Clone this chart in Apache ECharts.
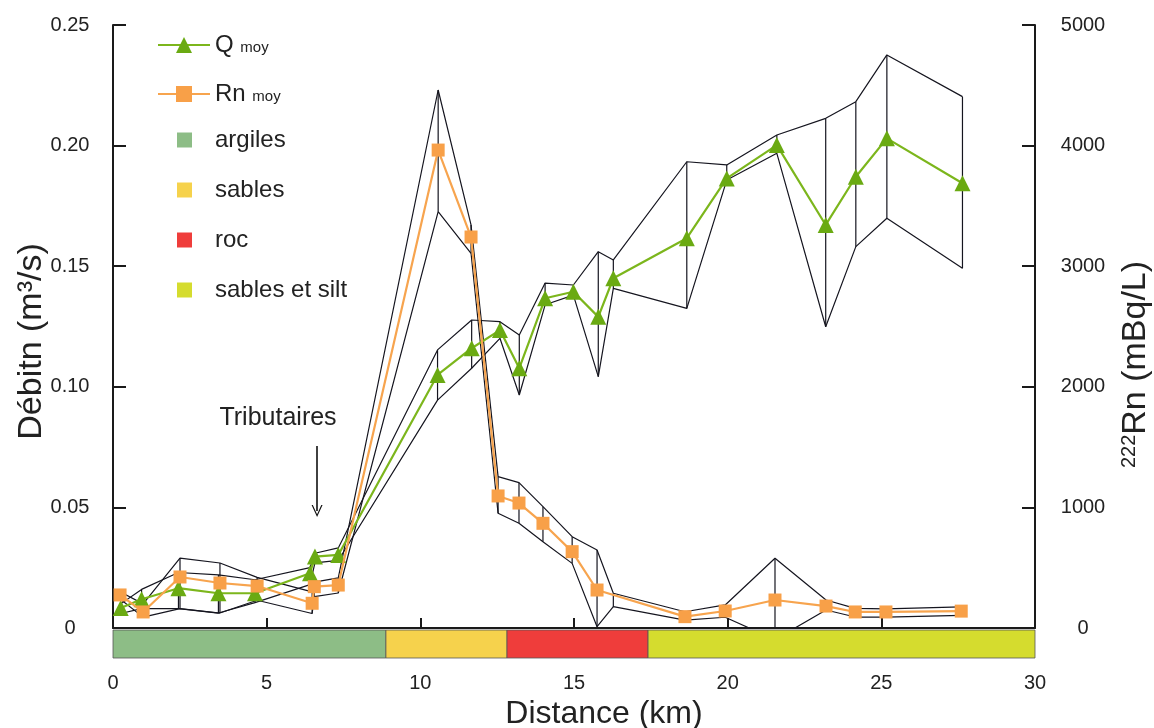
<!DOCTYPE html>
<html><head><meta charset="utf-8">
<script src="https://cdn.jsdelivr.net/npm/echarts@6/dist/echarts.min.js"></script>
<style>html,body{margin:0;padding:0;background:#fff}#c{width:1154px;height:728px}</style>
</head><body><div id="c"></div>
<script>
// ---- data ----
const xTicks = [0, 5, 10, 15, 20, 25, 30];
const qDist = [0.25, 0.93, 2.13, 3.43, 4.62, 6.41, 6.57, 7.33, 10.56, 11.67, 12.59, 13.22, 14.06, 14.98, 15.79, 16.28, 18.67, 19.97, 21.6, 23.19, 24.17, 25.18, 27.64];
const qMoy  = [0.0083, 0.0119, 0.0165, 0.0144, 0.0144, 0.0227, 0.0296, 0.0303, 0.1049, 0.116, 0.1235, 0.1077, 0.1367, 0.1394, 0.129, 0.145, 0.1616, 0.1864, 0.2002, 0.1671, 0.1871, 0.203, 0.1844];
const qMax  = [0.010, 0.016, 0.023, 0.022, 0.020, 0.025, 0.031, 0.0332, 0.1153, 0.1277, 0.127, 0.1215, 0.143, 0.1422, 0.156, 0.1526, 0.1933, 0.192, 0.2044, 0.2113, 0.2182, 0.2376, 0.2203];
const qMin  = [0.006, 0.008, 0.008, 0.0062, 0.0105, 0.018, 0.027, 0.028, 0.0945, 0.1077, 0.1201, 0.0966, 0.134, 0.138, 0.1042, 0.1408, 0.1325, 0.1857, 0.1968, 0.1249, 0.1581, 0.1699, 0.1491];

const rnDist = [0.23, 0.98, 2.18, 3.48, 4.69, 6.48, 6.55, 7.33, 10.58, 11.65, 12.53, 13.21, 13.99, 14.94, 15.75, 18.61, 19.92, 21.54, 23.2, 24.15, 25.15, 27.6];
const rnMoy  = [274, 133, 423, 373, 348, 205, 343, 356, 3963, 3242, 1095, 1036, 868, 633, 315, 94, 141, 232, 182, 133, 133, 140];
const rnEnvDist = [0.23, 0.98, 2.18, 3.48, 4.69, 6.48, 6.55, 7.33, 10.58, 11.65, 12.53, 13.21, 13.99, 14.94, 15.75, 16.28, 18.61, 19.92, 21.54, 23.2, 24.15, 25.15, 27.6];
const rnMax  = [300, 200, 580, 539, 420, 300, 380, 415, 4461, 3342, 1255, 1205, 1006, 757, 647, 288, 135, 191, 578, 232, 163, 158, 175];
const rnMin  = [240, 90, 160, 124, 230, 120, 260, 290, 3452, 3107, 951, 868, 716, 536, 11, 177, 66, 89, -96, 149, 91, 91, 105];

const geoNames = ['argiles', 'sables', 'roc', 'sables et silt'];
const geoStart = [0, 8.88, 12.82, 17.41];
const geoEnd   = [8.88, 12.82, 17.41, 30];

const tribX = 6.64, tribTop = 0.0755, tribBottom = 0.0485;
const tribLabelX = 5.37, tribLabelY = 0.0871;

// ---- styles ----
const geoColors = ['#8dbd86', '#f6d24c', '#ef3d3b', '#d5dc2e'];
const ENV = '#15151f';
const FONT = 'Liberation Sans, Arial, Helvetica, sans-serif';

const zip = (a, b) => a.map((v, i) => [v, b[i]]);

function whisker(params, api) {
  const x = api.value(0), lo = api.value(1), hi = api.value(2);
  const p1 = api.coord([x, lo]), p2 = api.coord([x, hi]);
  return { type: 'line', shape: { x1: p1[0], y1: p1[1], x2: p2[0], y2: p2[1] },
           style: { stroke: ENV, lineWidth: 1.2 } };
}
function geoRect(params, api) {
  const a = api.coord([api.value(0), 1]), b = api.coord([api.value(1), 0]);
  return { type: 'rect', shape: { x: a[0], y: a[1], width: b[0] - a[0], height: b[1] - a[1] },
           style: { fill: api.visual('color'), stroke: '#555', lineWidth: 0.8 } };
}

const chart = echarts.init(document.getElementById('c'), null, { renderer: 'canvas' });

const envLine = (data, yIdx) => ({
  type: 'line', data, yAxisIndex: yIdx, symbol: 'none', silent: true, z: 2,
  lineStyle: { color: ENV, width: 1.2 }, emphasis: { disabled: true }
});

const series = [
  envLine(zip(qDist, qMax), 0),
  envLine(zip(qDist, qMin), 0),
  { type: 'custom', renderItem: whisker, yAxisIndex: 0, silent: true, z: 2, clip: true,
    data: qDist.map((d, i) => [d, qMin[i], qMax[i]]), encode: { x: 0, y: [1, 2] } },
  envLine(zip(rnEnvDist, rnMax), 1),
  envLine(zip(rnEnvDist, rnMin), 1),
  { type: 'custom', renderItem: whisker, yAxisIndex: 1, silent: true, z: 2, clip: true,
    data: rnEnvDist.map((d, i) => [d, rnMin[i], rnMax[i]]), encode: { x: 0, y: [1, 2] } },
  { name: 'Q moy', type: 'line', data: zip(qDist, qMoy), yAxisIndex: 0, z: 4,
    symbol: 'triangle', symbolSize: 16,
    itemStyle: { color: '#6aaa12' }, lineStyle: { color: '#7cb61c', width: 2.2 },
    markPoint: { silent: true, symbol: 'circle', symbolSize: 1, itemStyle: { color: 'rgba(0,0,0,0)' },
      label: { show: true, formatter: 'Tributaires', fontSize: 25, color: '#222', fontFamily: FONT },
      data: [{ coord: [tribLabelX, tribLabelY] }] },
    markLine: { silent: true, symbol: ['none', 'path://M0,12 L6,0 L12,12 L10.6,12 L6,2.8 L1.4,12 Z'],
      symbolSize: [11, 12], lineStyle: { color: '#111', width: 1.6, type: 'solid' },
      label: { show: false },
      data: [[{ coord: [tribX, tribTop] }, { coord: [tribX, tribBottom] }]] } },
  { name: 'Rn moy', type: 'line', data: zip(rnDist, rnMoy), yAxisIndex: 1, z: 5,
    symbol: 'rect', symbolSize: 13,
    itemStyle: { color: '#f8a048' }, lineStyle: { color: '#f7a44e', width: 2.2 } }
];
geoNames.forEach((n, i) => {
  series.push({ name: n, type: 'custom', renderItem: geoRect, xAxisIndex: 1, yAxisIndex: 2,
    silent: true, itemStyle: { color: geoColors[i] },
    data: [[geoStart[i], geoEnd[i]]], encode: { x: [0, 1] } });
});

const legendText = { fontSize: 24, color: '#222', fontFamily: FONT, lineHeight: 26,
  rich: { s: { fontSize: 15, lineHeight: 26, color: '#222', fontFamily: FONT, padding: [6, 0, 0, 0] } } };

chart.setOption({
  animation: false,
  backgroundColor: '#fff',
  textStyle: { fontFamily: FONT },
  grid: [
    { left: 113, right: 119, top: 25, bottom: 100, outerBoundsMode: 'none', containLabel: false },
    { left: 113, right: 119, top: 630, height: 28, outerBoundsMode: 'none', containLabel: false }
  ],
  legend: [
    { data: ['Q moy', 'Rn moy'], orient: 'vertical', left: 157, top: 32, padding: 0,
      itemWidth: 52, itemHeight: 20, itemGap: 23, selectedMode: false, textStyle: legendText,
      formatter: n => n.replace(' moy', ' {s|moy}') },
    { data: geoNames, orient: 'vertical', left: 177, top: 127, padding: 0, itemWidth: 15, itemHeight: 15,
      itemGap: 24, selectedMode: false, icon: 'rect',
      textStyle: Object.assign({}, legendText, { padding: [0, 0, 0, 18] }) }
  ],
  xAxis: [
    { type: 'value', gridIndex: 0, min: 0, max: 30, interval: 5,
      name: 'Distance (km)', nameLocation: 'middle', nameGap: 68,
      nameTextStyle: { fontSize: 32, color: '#222', padding: [0, 0, 0, 60] },
      axisLine: { show: true, onZero: false, lineStyle: { color: '#1a1a1a', width: 2 } },
      axisTick: { show: true, inside: true, length: 10, lineStyle: { color: '#1a1a1a', width: 2 } },
      axisLabel: { fontSize: 20, color: '#222', margin: 45 },
      splitLine: { show: false } },
    { type: 'value', gridIndex: 1, min: 0, max: 30, show: false }
  ],
  yAxis: [
    { type: 'value', gridIndex: 0, position: 'left', min: 0, max: 0.25, interval: 0.05,
      name: 'Débitn (m³/s)', nameLocation: 'middle', nameGap: 64, nameMoveOverlap: false,
      nameTextStyle: { fontSize: 34, color: '#222', padding: [0, 30, 0, 0] },
      axisLine: { show: true, lineStyle: { color: '#1a1a1a', width: 2 } },
      axisTick: { show: true, inside: true, length: 13, lineStyle: { color: '#1a1a1a', width: 2 } },
      axisLabel: { fontSize: 20, color: '#222', align: 'center', margin: 43,
        formatter: v => v === 0 ? '0' : v.toFixed(2) },
      splitLine: { show: false } },
    { type: 'value', gridIndex: 0, position: 'right', min: 0, max: 5000, interval: 1000,
      name: '{sup|222}Rn (mBq/L)', nameLocation: 'middle', nameGap: 84, nameRotate: 90,
      nameTextStyle: { fontSize: 34, color: '#222', padding: [0, 76, 0, 0],
        rich: { sup: { fontSize: 20, color: '#222', padding: [0, 0, 14, 0] } } },
      axisLine: { show: true, lineStyle: { color: '#1a1a1a', width: 2 } },
      axisTick: { show: true, inside: true, length: 13, lineStyle: { color: '#1a1a1a', width: 2 } },
      axisLabel: { fontSize: 20, color: '#222', align: 'center', margin: 48, formatter: v => String(v) },
      splitLine: { show: false } },
    { type: 'value', gridIndex: 1, min: 0, max: 1, show: false }
  ],
  series
});
</script></body></html>
